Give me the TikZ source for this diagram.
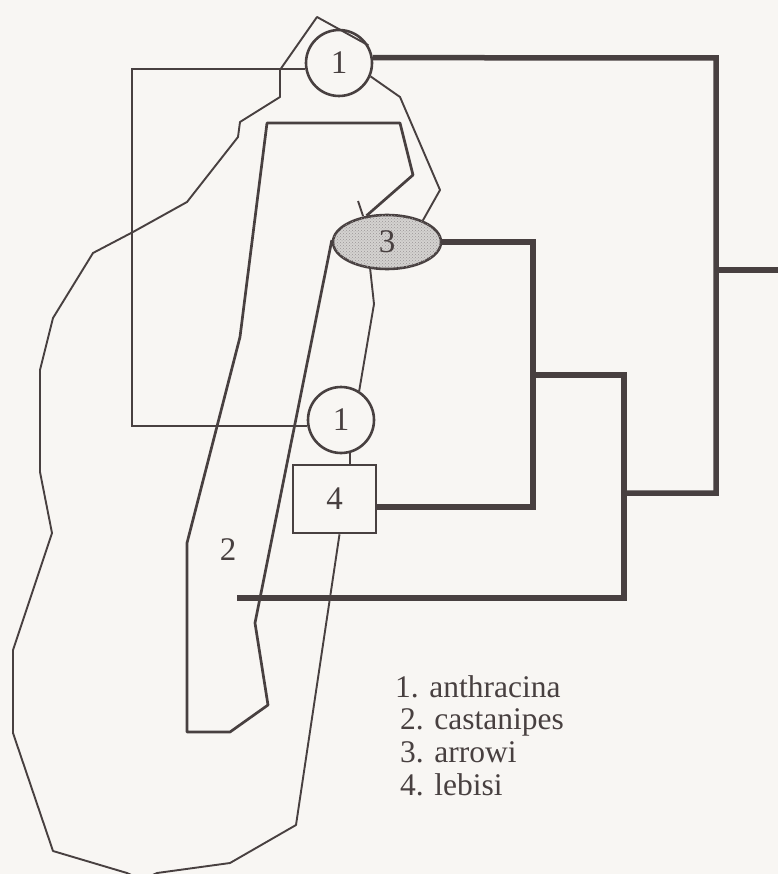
\documentclass[tikz,border=0pt]{standalone}
\usepackage{fontspec}
\setmainfont{Liberation Serif}
\usetikzlibrary{shapes.geometric,patterns}
\definecolor{ink}{RGB}{72,64,64}
\definecolor{paper}{RGB}{248,246,243}
\definecolor{stip}{RGB}{212,210,208}
\begin{document}
\begin{tikzpicture}[x=1pt,y=-1pt,
  treeline/.style={draw=ink, line width=5.5pt},
  frameline/.style={draw=ink, line width=2.6pt},
  rangeline/.style={draw=ink, line width=1.9pt, line join=round},
  rangetwo/.style={draw=ink, line width=2.7pt, line join=round},
  taxon/.style={circle, draw=ink, line width=2.6pt, minimum size=66pt, inner sep=0pt, fill=paper, text=ink, font=\fontsize{33}{33}\selectfont},
  oval/.style={ellipse, draw=ink, line width=2.6pt, minimum width=108pt, minimum height=54pt, inner sep=0pt, fill=stip, postaction={pattern=crosshatch dots, pattern color=ink!55}, text=ink, font=\fontsize{33}{33}\selectfont},
  boxnode/.style={rectangle, draw=ink, line width=2.6pt, minimum width=83pt, minimum height=68pt, inner sep=0pt, fill=paper, text=ink, font=\fontsize{33}{33}\selectfont},
  lbl/.style={text=ink, font=\fontsize{33}{33}\selectfont, inner sep=0pt},
  legend/.style={text=ink, font=\fontsize{31.5}{36}\selectfont, inner sep=0pt, anchor=base west}]
\fill[paper] (0,0) rectangle (778,874);
\useasboundingbox (0,0) rectangle (778,874);

% nodes
\node[taxon] (a1) at (339,63) {1};
\node[oval] (e3) at (387,242) {3};
\node[taxon] (a1b) at (341,420) {1};
\node[boxnode] (b4) at (334.5,499) {4};
\node[lbl] (l2) at (228,550) {2};

% junction coordinates of the tree
\coordinate (j34) at (533,375);
\coordinate (j234) at (624,493);
\coordinate (root) at (716,270);
\coordinate (rootend) at (778,270);
\coordinate (end2) at (237,598);

% tree (thick)
\draw[treeline] (e3.east) -| (j34) |- ([yshift=-8pt]b4.east);
\draw[treeline] (j34) -- (624,375) -- (624,598) -- (end2);
\draw[treeline] (j234) -- (716,493) -- (716,58) -- (a1.9);
\draw[treeline] (root) -- (rootend);

% connector between the two populations of 1
\draw[frameline] (a1.190) -| (132,300) |- (a1b.190);
\draw[rangeline] (a1b.285) -- (a1b.285 |- b4.north);

% thin range outlines
\draw[rangeline] (a1.31) -- (317,17) -- (282,67) -- (280,70) -- (280,97) -- (240,122) -- (238,137)
  -- (187,202) -- (133,232) -- (93,253) -- (53,318) -- (40,370) -- (40,472) -- (52,533)
  -- (13,650) -- (13,733) -- (53,851) -- (127,873) -- (142,880) -- (157,873) -- (230,863)
  -- (296,825) -- ([xshift=5pt]b4.south);
\draw[rangeline] (a1.337) -- (400,97) -- (440,190) -- (e3.31);
\draw[rangeline] (e3.238) -- (374,304) -- (a1b.58);

% range of 2
\draw[rangetwo] (e3.128) -- (413,175) -- (400,123) -- (267,123) -- (240,337) -- (187,543)
  -- (187,732) -- (230,732) -- (268,705) -- (255,623) -- (e3.178);
\draw[rangeline] (358,201) -- (363,216);

% legend
\node[legend] (k1) at (395,697) {1. anthracina};
\node[legend] (k2) at (400,729) {2. castanipes};
\node[legend] (k3) at (400,762) {3. arrowi};
\node[legend] (k4) at (400,795) {4. lebisi};
\end{tikzpicture}
\end{document}
